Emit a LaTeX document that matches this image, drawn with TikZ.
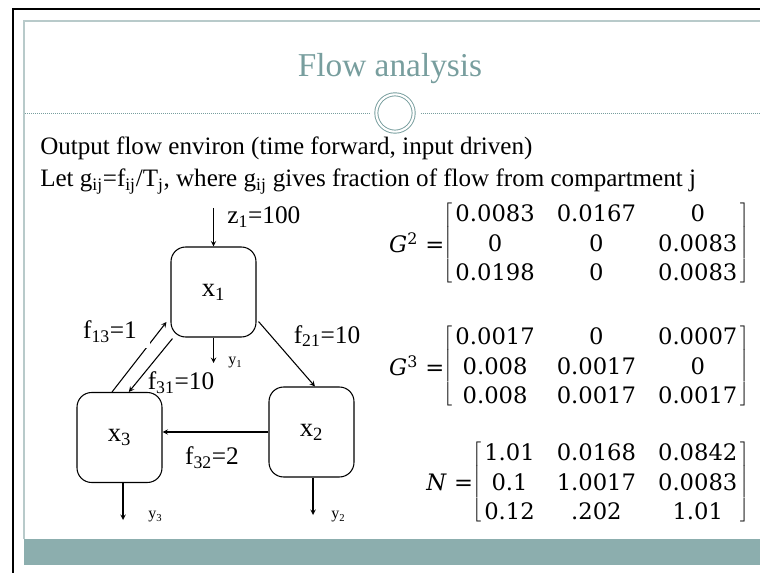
\documentclass[tikz,border=0pt]{standalone}
\usepackage{fontspec}
\setmainfont{Liberation Serif}
\newfontfamily\matfont{DejaVu Serif}
\usetikzlibrary{matrix,positioning,calc}
\definecolor{slideband}{HTML}{8CAEAE}
\definecolor{titleteal}{HTML}{789E9E}
\definecolor{framegray}{HTML}{B8CACA}
\newcommand{\sub}[1]{\textsubscript{#1}}
\begin{document}
\begin{tikzpicture}[x=0.75pt,y=-0.75pt,
    body/.style={anchor=base west,inner sep=0pt,font=\fontsize{18.8}{22}\selectfont},
    comp/.style={draw,line width=0.8pt,rounded corners=11pt,minimum width=63.75pt,minimum height=67.5pt,font=\fontsize{20}{22}\selectfont},
    flow/.style={font=\fontsize{19}{21}\selectfont,inner sep=0pt},
    outlab/.style={anchor=west,inner sep=0pt,font=\fontsize{12}{14}\selectfont},
    arr/.style={->,>=stealth,line width=0.8pt},
    mat/.style={matrix of nodes,anchor=east,inner sep=1pt,
        nodes={inner sep=0pt,font=\matfont\fontsize{17}{20}\selectfont},
        column sep=16.5pt,row sep={22pt,between origins},
        left delimiter={[},right delimiter={]}},
    matlab/.style={anchor=east,inner sep=0pt,font=\matfont\fontsize{17}{20}\selectfont}
]
\useasboundingbox (0,0) rectangle (760,573);
% slide frame
\draw[line width=2.2pt] (13,580) -- (13,9) -- (765,9);
\draw[framegray,line width=1.1pt] (24,539) -- (24,21) -- (765,21);
\fill[slideband] (24,539) rectangle (765,565);
% title and ornament
\node[font=\fontsize{25}{28}\selectfont,text=titleteal,anchor=base] (title) at (390,77) {Flow analysis};
\node[circle,draw=titleteal,line width=0.7pt,double=white,double distance=1.6pt,minimum size=28pt,inner sep=0pt] (orn) at (395,113) {};
\coordinate (ruleL) at (25,113);
\coordinate (ruleR) at (765,113);
\draw[titleteal,line width=0.6pt,dash pattern=on 0.75pt off 0.75pt] (ruleL) -- ([xshift=-5pt]orn.west);
\draw[titleteal,line width=0.6pt,dash pattern=on 0.75pt off 0.75pt] ([xshift=5pt]orn.east) -- (ruleR);
% text
\node[body] (intro) at (40,155) {Output flow environ (time forward, input driven)};
\node[body] (letline) at (40,187) {Let g\sub{ij}=f\sub{ij}/T\sub{j}, where g\sub{ij} gives fraction of flow from compartment j};
% compartments
\node[comp] (x1) at (213.5,292) {x\sub{1}};
\node[comp] (x2) at (311.5,432) {x\sub{2}};
\node[comp] (x3) at (119.5,437.5) {x\sub{3}};
\coordinate (zin) at (213.5,208);
\coordinate (y1end) at (213.5,363);
\coordinate (y2end) at (313,515);
\coordinate (y3end) at (123,520);
\draw[arr] (zin) -- (x1.north);
\draw[arr] (x1.south) -- (y1end);
\draw[arr] (y2end |- x2.south) -- (y2end);
\draw[arr] (y3end |- x3.south) -- (y3end);
\draw[arr] ([shift={(2,-16)}]x1.south east) -- ([xshift=2.6pt]x2.north);
\draw[arr] ([xshift=-5.6pt]x3.north) -- ([shift={(-4,30)}]x1.west);
\draw[arr] ([shift={(2,1)}]x1.south west) -- ([xshift=7pt]x3.north);
\draw[arr] (x2.west) -- (x2.west -| x3.east);
% flow labels
\node[flow,anchor=west] (zlab) at (227,217) {z\sub{1}=100};
\node[flow,fill=white,inner xsep=10pt,inner ysep=4pt] (f13lab) at (110,332) {f\sub{13}=1};
\node[flow,fill=white,inner sep=5pt] (f21lab) at (327,336) {f\sub{21}=10};
\node[flow] (f31lab) at (181,383) {f\sub{31}=10};
\node[flow] (f32lab) at (212,458) {f\sub{32}=2};
\node[outlab] (y1lab) at (228,363) {y\sub{1}};
\node[outlab] (y2lab) at (331,517) {y\sub{2}};
\node[outlab] (y3lab) at (148,517) {y\sub{3}};
% matrices
\matrix[mat] (gtwo) at (739,243) {
    0.0083 & 0.0167 & 0 \\
    0 & 0 & 0.0083 \\
    0.0198 & 0 & 0.0083 \\
};
\matrix[mat] (gthree) at (739,366) {
    0.0017 & 0 & 0.0007 \\
    0.008 & 0.0017 & 0 \\
    0.008 & 0.0017 & 0.0017 \\
};
\matrix[mat] (nmat) at (739,482) {
    1.01 & 0.0168 & 0.0842 \\
    0.1 & 1.0017 & 0.0083 \\
    0.12 & .202 & 1.01 \\
};
\node[matlab] (gtwolab) at ([xshift=-7pt]gtwo.west) {\textit{G}\textsuperscript{2} =};
\node[matlab] (gthreelab) at ([xshift=-7pt]gthree.west) {\textit{G}\textsuperscript{3} =};
\node[matlab] (nlab) at ([xshift=-7pt]nmat.west) {\textit{N} =};
\end{tikzpicture}
\end{document}
